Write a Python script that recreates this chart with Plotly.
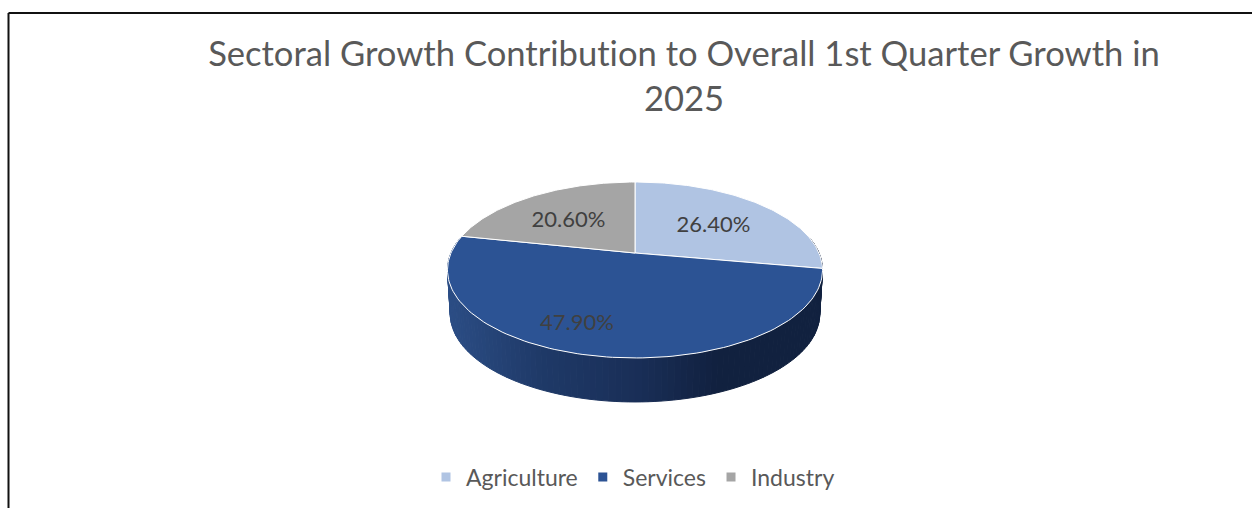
import numpy as np
import plotly.graph_objects as go

CATEGORIES = ["Agriculture", "Services", "Industry"]
VALUES = [26.4, 47.9, 20.6]
LABELS = ["26.40%", "47.90%", "20.60%"]
TITLE = "Sectoral Growth Contribution to Overall 1st Quarter Growth in<br>2025"
COLORS = ["#B0C4E3", "#2C5394", "#A5A5A5"]

W, H = 1252, 508
CX, CY = 635, 253          # pie centre (apex) in the picture
A, B, K = 184.0, 84.7, 0.193   # perspective tilt of the disc
DEPTH = 44
BOTTOM_SCALE = 0.985
LABEL_R = [0.56, 0.775, 0.56]
LABEL_NUDGE = [4, 9.5, -5]
FONT = "Lato"


def project(theta_deg, r=1.0, depth=0.0, xscale=1.0):
    t = np.radians(theta_deg)
    u, v = r * np.sin(t), r * np.cos(t)
    w = 1 + K * v
    return xscale * A * u / w, -B * v / w + depth  # y axis runs downward


WALL_STOPS = [(-190, (44, 78, 134)), (-95, (31, 58, 104)), (0, (26, 47, 88)),
              (85, (17, 33, 63)), (190, (18, 34, 63))]


def wall_color(x):
    xs = [s[0] for s in WALL_STOPS]
    rgb = [int(np.interp(x, xs, [s[1][i] for s in WALL_STOPS])) for i in range(3)]
    return "rgb(%d,%d,%d)" % tuple(rgb)


fig = go.Figure()

# extruded wall, painted as narrow bands
angles = np.linspace(80, 280, 121)
for a0, a1 in zip(angles[:-1], angles[1:]):
    x0, y0 = project(a0)
    x1, y1 = project(a1)
    x2, y2 = project(a1, depth=DEPTH, xscale=BOTTOM_SCALE)
    x3, y3 = project(a0, depth=DEPTH, xscale=BOTTOM_SCALE)
    c = wall_color((x0 + x1) / 2)
    fig.add_trace(go.Scatter(x=[x0, x1, x2, x3, x0], y=[y0, y1, y2, y3, y0], mode="lines",
                             fill="toself", fillcolor=c, line=dict(color=c, width=1),
                             showlegend=False, hoverinfo="skip"))

# top face slices
shares = np.array(VALUES) / sum(VALUES) * 360
edges = np.concatenate([[0], np.cumsum(shares)])
for i, name in enumerate(CATEGORIES):
    th = np.linspace(edges[i], edges[i + 1], 120)
    x, y = project(th)
    fig.add_trace(go.Scatter(x=np.r_[0, x, 0], y=np.r_[0, y, 0], mode="lines", fill="toself",
                             fillcolor=COLORS[i], line=dict(color="#FFFFFF", width=1),
                             showlegend=False, name=name, hoverinfo="name"))

# labels
for i, lab in enumerate(LABELS):
    mid = (edges[i] + edges[i + 1]) / 2 + LABEL_NUDGE[i]
    x, y = project(mid, r=LABEL_R[i])
    fig.add_trace(go.Scatter(x=[x], y=[y], mode="text", text=[lab], textposition="middle center",
                             textfont=dict(family=FONT, size=22, color="#404040"),
                             showlegend=False, hoverinfo="skip"))

# legend entries
for name, c in zip(CATEGORIES, COLORS):
    fig.add_trace(go.Scatter(x=[None], y=[None], mode="markers", name=name,
                             marker=dict(symbol="square", size=9, color=c)))

fig.update_layout(
    width=W, height=H, autosize=False,
    margin=dict(l=0, r=0, t=0, b=0),
    paper_bgcolor="#FFFFFF", plot_bgcolor="#FFFFFF",
    title=dict(text=TITLE, x=684 / W, xanchor="center", y=1 - 66 / H, yanchor="middle",
               font=dict(family=FONT, size=34.6, color="#595959")),
    xaxis=dict(range=[-CX, W - CX], visible=False, fixedrange=True),
    yaxis=dict(range=[H - CY, -CY], visible=False, fixedrange=True),
    legend=dict(orientation="h", x=633 / W, xanchor="center", y=1 - 477 / H, yanchor="middle",
                font=dict(family=FONT, size=23, color="#595959"), itemwidth=30),
    shapes=[
        dict(type="line", xref="paper", yref="paper", x0=8.5 / W, x1=1, y0=1 - 13 / H, y1=1 - 13 / H,
             line=dict(color="#111111", width=2)),
        dict(type="line", xref="paper", yref="paper", x0=8.5 / W, x1=8.5 / W, y0=1 - 13 / H, y1=0,
             line=dict(color="#111111", width=2)),
    ],
)

POST = """
document.body.style.margin = '0';
document.documentElement.style.overflow = 'hidden';
var s = document.createElement('style');
s.textContent = 'svg text { font-variant-ligatures: none !important; font-feature-settings: "liga" 0 !important; }';
document.head.appendChild(s);
"""
fig.write_html("out.html", config={"displayModeBar": False}, post_script=POST)
